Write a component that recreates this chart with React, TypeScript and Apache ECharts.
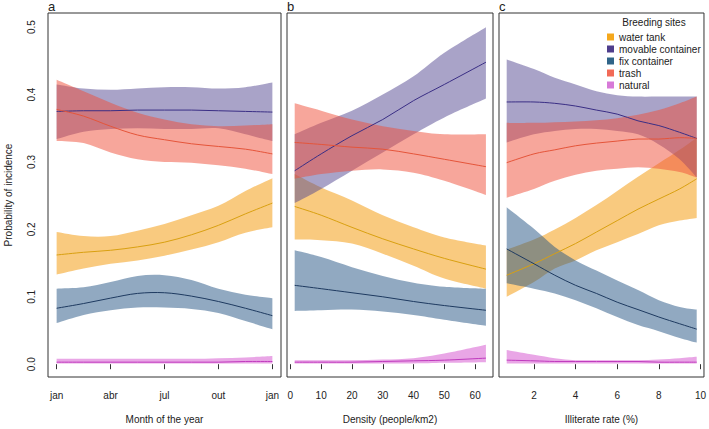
import React, { useEffect, useRef } from "react";
import * as echarts from "echarts";

// ---------- x positions of the fitted curves ----------
const monthX = [1, 2.5, 4, 5.5, 7, 8.5, 10, 11.5, 13];
const densityX = [1.4, 10, 20, 30, 40, 50, 63.5];
const illiterateX = [0.69, 2, 3, 4, 5, 6, 7, 8, 9, 9.82];

// ---------- axis ticks ----------
const monthTicks = [1, 4, 7, 10, 13];
const monthTickLabels = ["jan", "abr", "jul", "out", "jan"];
const densityTicks = [0, 10, 20, 30, 40, 50, 60];
const illiterateTicks = [2, 4, 6, 8, 10];
const probTicks = [0, 0.1, 0.2, 0.3, 0.4, 0.5];

const sites = ["water tank", "movable container", "fix container", "trash", "natural"];

// ---------- panel a : month of the year ----------
const aWaterMean = [0.162, 0.166, 0.169, 0.174, 0.181, 0.192, 0.206, 0.223, 0.239];
const aWaterLow = [0.133, 0.142, 0.149, 0.154, 0.161, 0.170, 0.181, 0.195, 0.203];
const aWaterHigh = [0.196, 0.190, 0.190, 0.198, 0.208, 0.221, 0.235, 0.257, 0.276];
const aMovableMean = [0.375, 0.376, 0.376, 0.377, 0.377, 0.377, 0.376, 0.375, 0.374];
const aMovableLow = [0.334, 0.345, 0.349, 0.350, 0.349, 0.349, 0.350, 0.341, 0.331];
const aMovableHigh = [0.415, 0.409, 0.407, 0.409, 0.411, 0.411, 0.409, 0.411, 0.418];
const aFixMean = [0.083, 0.090, 0.098, 0.105, 0.106, 0.101, 0.093, 0.083, 0.072];
const aFixLow = [0.061, 0.073, 0.080, 0.084, 0.084, 0.082, 0.076, 0.064, 0.052];
const aFixHigh = [0.112, 0.114, 0.122, 0.131, 0.132, 0.125, 0.112, 0.103, 0.098];
const aTrashMean = [0.378, 0.368, 0.353, 0.340, 0.333, 0.327, 0.323, 0.319, 0.312];
const aTrashLow = [0.331, 0.328, 0.314, 0.304, 0.300, 0.299, 0.295, 0.290, 0.282];
const aTrashHigh = [0.422, 0.405, 0.388, 0.373, 0.363, 0.356, 0.353, 0.354, 0.356];
const aNaturalMean = [0.003, 0.003, 0.003, 0.003, 0.003, 0.003, 0.003, 0.004, 0.004];
const aNaturalLow = [0.001, 0.001, 0.001, 0.001, 0.001, 0.001, 0.001, 0.001, 0.001];
const aNaturalHigh = [0.008, 0.008, 0.008, 0.008, 0.008, 0.008, 0.009, 0.010, 0.012];

// ---------- panel b : density ----------
const bWaterMean = [0.234, 0.221, 0.203, 0.186, 0.171, 0.157, 0.141];
const bWaterLow = [0.185, 0.184, 0.179, 0.164, 0.146, 0.127, 0.112];
const bWaterHigh = [0.282, 0.262, 0.243, 0.221, 0.203, 0.188, 0.176];
const bMovableMean = [0.287, 0.312, 0.339, 0.363, 0.391, 0.415, 0.448];
const bMovableLow = [0.239, 0.260, 0.287, 0.314, 0.341, 0.366, 0.394];
const bMovableHigh = [0.341, 0.358, 0.376, 0.400, 0.427, 0.462, 0.500];
const bFixMean = [0.117, 0.112, 0.106, 0.100, 0.093, 0.087, 0.080];
const bFixLow = [0.079, 0.080, 0.081, 0.078, 0.073, 0.066, 0.057];
const bFixHigh = [0.169, 0.159, 0.144, 0.131, 0.121, 0.115, 0.112];
const bTrashMean = [0.329, 0.326, 0.322, 0.319, 0.312, 0.304, 0.293];
const bTrashLow = [0.275, 0.282, 0.287, 0.289, 0.284, 0.272, 0.251];
const bTrashHigh = [0.387, 0.376, 0.363, 0.353, 0.346, 0.341, 0.341];
const bNaturalMean = [0.003, 0.003, 0.003, 0.004, 0.005, 0.006, 0.009];
const bNaturalLow = [0.001, 0.001, 0.001, 0.001, 0.001, 0.002, 0.003];
const bNaturalHigh = [0.006, 0.006, 0.006, 0.007, 0.009, 0.016, 0.029];

// ---------- panel c : illiterate rate ----------
const cWaterMean = [0.132, 0.149, 0.164, 0.179, 0.196, 0.213, 0.230, 0.245, 0.260, 0.275];
const cWaterLow = [0.100, 0.122, 0.142, 0.154, 0.169, 0.181, 0.193, 0.206, 0.213, 0.217];
const cWaterHigh = [0.170, 0.185, 0.200, 0.217, 0.236, 0.257, 0.278, 0.298, 0.318, 0.336];
const cMovableMean = [0.389, 0.389, 0.387, 0.383, 0.377, 0.371, 0.361, 0.354, 0.344, 0.335];
const cMovableLow = [0.329, 0.341, 0.346, 0.349, 0.349, 0.346, 0.341, 0.326, 0.304, 0.277];
const cMovableHigh = [0.452, 0.438, 0.425, 0.415, 0.405, 0.399, 0.397, 0.397, 0.397, 0.397];
const cFixMean = [0.171, 0.149, 0.132, 0.117, 0.105, 0.092, 0.081, 0.070, 0.060, 0.052];
const cFixLow = [0.120, 0.112, 0.105, 0.095, 0.083, 0.070, 0.058, 0.049, 0.039, 0.032];
const cFixHigh = [0.233, 0.201, 0.174, 0.154, 0.139, 0.124, 0.110, 0.095, 0.085, 0.081];
const cTrashMean = [0.299, 0.312, 0.318, 0.324, 0.328, 0.331, 0.334, 0.334, 0.336, 0.335];
const cTrashLow = [0.247, 0.260, 0.272, 0.281, 0.287, 0.290, 0.292, 0.290, 0.285, 0.277];
const cTrashHigh = [0.358, 0.358, 0.359, 0.360, 0.362, 0.365, 0.370, 0.377, 0.387, 0.397];
const cNaturalMean = [0.006, 0.005, 0.004, 0.004, 0.004, 0.004, 0.004, 0.003, 0.003, 0.003];
const cNaturalLow = [0.001, 0.001, 0.001, 0.001, 0.001, 0.001, 0.001, 0.001, 0.001, 0.001];
const cNaturalHigh = [0.021, 0.014, 0.009, 0.006, 0.006, 0.006, 0.006, 0.007, 0.009, 0.011];

// ---------- styles ----------
const bandColors = [
  "rgba(243,150,0,0.5)",
  "rgba(83,71,145,0.5)",
  "rgba(35,83,131,0.5)",
  "rgba(239,77,55,0.5)",
  "rgba(211,77,205,0.5)",
];
const lineColors = ["#D9A010", "#3A2E85", "#1E3A60", "#E5553A", "#C03BBE"];
const legendColors = ["#F5A81C", "#4E3D8C", "#2F6488", "#F26A57", "#D77AD8"];
const FONT = "'Liberation Sans', Arial, Helvetica, sans-serif";
const TEXT = "#222";

// smooth path through pixel points (Catmull-Rom -> cubic Bezier)
function splinePath(pts: number[][], moveFirst: boolean): string {
  let d = moveFirst ? `M${pts[0][0]},${pts[0][1]}` : `L${pts[0][0]},${pts[0][1]}`;
  const n = pts.length;
  for (let i = 0; i < n - 1; i++) {
    const p0 = pts[Math.max(0, i - 1)];
    const p1 = pts[i];
    const p2 = pts[i + 1];
    const p3 = pts[Math.min(n - 1, i + 2)];
    const c1x = p1[0] + (p2[0] - p0[0]) / 6;
    const c1y = p1[1] + (p2[1] - p0[1]) / 6;
    const c2x = p2[0] - (p3[0] - p1[0]) / 6;
    const c2y = p2[1] - (p3[1] - p1[1]) / 6;
    d += ` C${c1x},${c1y} ${c2x},${c2y} ${p2[0]},${p2[1]}`;
  }
  return d;
}

export default function App() {
  const ref = useRef<HTMLDivElement>(null);

  useEffect(() => {
    if (!ref.current) return;
    const chart = echarts.init(ref.current, null, { renderer: "svg" });

    const panels = [
      {
        xs: monthX, min: 0.52, max: 13.48, ticks: monthTicks, name: "Month of the year",
        left: 48, width: 233,
        fmt: (v: number) => monthTickLabels[monthTicks.indexOf(v)] ?? "",
        sets: [
          [aWaterLow, aWaterMean, aWaterHigh],
          [aMovableLow, aMovableMean, aMovableHigh],
          [aFixLow, aFixMean, aFixHigh],
          [aTrashLow, aTrashMean, aTrashHigh],
          [aNaturalLow, aNaturalMean, aNaturalHigh],
        ],
      },
      {
        xs: densityX, min: -1.1, max: 65.8, ticks: densityTicks, name: "Density (people/km2)",
        left: 287, width: 206,
        fmt: (v: number) => String(v),
        sets: [
          [bWaterLow, bWaterMean, bWaterHigh],
          [bMovableLow, bMovableMean, bMovableHigh],
          [bFixLow, bFixMean, bFixHigh],
          [bTrashLow, bTrashMean, bTrashHigh],
          [bNaturalLow, bNaturalMean, bNaturalHigh],
        ],
      },
      {
        xs: illiterateX, min: 0.32, max: 10.17, ticks: illiterateTicks, name: "Illiterate rate (%)",
        left: 499, width: 205,
        fmt: (v: number) => String(v),
        sets: [
          [cWaterLow, cWaterMean, cWaterHigh],
          [cMovableLow, cMovableMean, cMovableHigh],
          [cFixLow, cFixMean, cFixHigh],
          [cTrashLow, cTrashMean, cTrashHigh],
          [cNaturalLow, cNaturalMean, cNaturalHigh],
        ],
      },
    ];

    const grids: any[] = [];
    const xAxes: any[] = [];
    const yAxes: any[] = [];
    const series: any[] = [];

    panels.forEach((p, g) => {
      grids.push({
        left: p.left, top: 13, width: p.width, height: 366,
        show: true, borderColor: "#333", borderWidth: 1, backgroundColor: "transparent",
      });
      xAxes.push({
        type: "value", gridIndex: g, min: p.min, max: p.max,
        name: p.name, nameLocation: "middle", nameGap: 37,
        nameTextStyle: { fontFamily: FONT, fontSize: 10, color: TEXT },
        axisLine: { show: false },
        splitLine: { show: false },
        axisTick: { show: true, length: 5, customValues: p.ticks, lineStyle: { color: "#333", width: 1 } },
        axisLabel: {
          customValues: p.ticks, formatter: p.fmt, margin: 13,
          fontFamily: FONT, fontSize: 10, color: TEXT,
        },
      });
      yAxes.push({
        type: "value", gridIndex: g, min: -0.019, max: 0.521,
        name: g === 0 ? "Probability of incidence" : "",
        nameLocation: "middle", nameGap: 35, nameRotate: 90,
        nameTextStyle: { fontFamily: FONT, fontSize: 10, color: TEXT },
        axisLine: { show: false },
        splitLine: { show: false },
        axisTick: { show: false },
        axisLabel: {
          show: g === 0, customValues: probTicks, rotate: 90, margin: 12,
          formatter: (v: number) => v.toFixed(1),
          fontFamily: FONT, fontSize: 10, color: TEXT,
        },
      });

      // confidence bands
      p.sets.forEach((set, i) => {
        const [lo, , hi] = set;
        const rows = p.xs.map((x, k) => [x, lo[k], hi[k]]);
        series.push({
          type: "custom", name: `${sites[i]} band ${g}`, coordinateSystem: "cartesian2d",
          xAxisIndex: g, yAxisIndex: g, data: rows, silent: true, z: 1,
          encode: { x: 0, y: [1, 2] },
          renderItem: (params: any, api: any) => {
            if (params.dataIndex !== 0) return null;
            const upper = rows.map((r) => api.coord([r[0], r[2]]));
            const lower = rows.map((r) => api.coord([r[0], r[1]])).reverse();
            const d = splinePath(upper, true) + " " + splinePath(lower, false) + " Z";
            return { type: "path", shape: { pathData: d }, style: { fill: bandColors[i], stroke: "none" } };
          },
        });
      });
      // fitted lines
      p.sets.forEach((set, i) => {
        const mean = set[1];
        const rows = p.xs.map((x, k) => [x, mean[k]]);
        series.push({
          type: "custom", name: sites[i], coordinateSystem: "cartesian2d",
          xAxisIndex: g, yAxisIndex: g, data: rows, silent: true, z: 3,
          itemStyle: { color: legendColors[i] },
          encode: { x: 0, y: 1 },
          renderItem: (params: any, api: any) => {
            if (params.dataIndex !== 0) return null;
            const pts = rows.map((r) => api.coord([r[0], r[1]]));
            return {
              type: "path", shape: { pathData: splinePath(pts, true) },
              style: { fill: "none", stroke: lineColors[i], lineWidth: 1 },
            };
          },
        });
      });
    });

    const option: any = {
      animation: false,
      textStyle: { fontFamily: FONT },
      grid: grids,
      xAxis: xAxes,
      yAxis: yAxes,
      series,
      legend: {
        data: sites.map((s, i) => ({ name: s, itemStyle: { color: legendColors[i] } })),
        orient: "vertical", left: 607, top: 31, padding: 0,
        icon: "rect", itemWidth: 7, itemHeight: 7, itemGap: 0,
        selectedMode: false,
        textStyle: { fontFamily: FONT, fontSize: 10, color: TEXT, lineHeight: 12 },
      },
      graphic: [
        { type: "text", x: 48, y: 6, style: { text: "a", font: `13px ${FONT}`, fill: TEXT, verticalAlign: "middle" } },
        { type: "text", x: 287, y: 6, style: { text: "b", font: `13px ${FONT}`, fill: TEXT, verticalAlign: "middle" } },
        { type: "text", x: 499, y: 6, style: { text: "c", font: `13px ${FONT}`, fill: TEXT, verticalAlign: "middle" } },
        { type: "text", x: 654, y: 22, z: 10, style: { text: "Breeding sites", font: `10px ${FONT}`, fill: TEXT, align: "center", verticalAlign: "middle" } },
      ],
    };

    chart.setOption(option);
    return () => chart.dispose();
  }, []);

  return (
    <div
      ref={ref}
      style={{ position: "absolute", left: 0, top: 0, width: 709, height: 429, background: "#fff" }}
    />
  );
}
